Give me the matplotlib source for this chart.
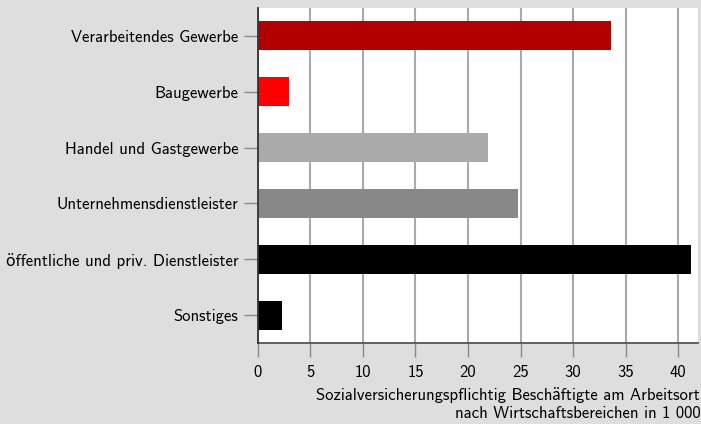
import matplotlib.pyplot as plt

categories = ["Verarbeitendes Gewerbe", "Baugewerbe", "Handel und Gastgewerbe",
              "Unternehmensdienstleister", "öffentliche und priv. Dienstleister", "Sonstiges"]
values = [33.6, 3.0, 21.9, 24.8, 41.2, 2.3]
colors = ["#b30000", "#ff0000", "#aaaaaa", "#888888", "#000000", "#000000"]
xticks = [0, 5, 10, 15, 20, 25, 30, 35, 40]

plt.rcParams['font.family'] = ['cmss10', 'Lato', 'DejaVu Sans']
plt.rcParams['axes.unicode_minus'] = False

fig = plt.figure(figsize=(7.01, 4.24), dpi=100, facecolor="#dedede")
ax = fig.add_axes([0.368, 0.191, 0.6277, 0.790])
ax.set_facecolor("white")

pos = list(range(len(categories)))
ax.barh(pos, values, height=0.52, color=colors, zorder=3)
ax.set_ylim(len(categories) - 0.5, -0.5)
ax.set_xlim(0, 41.9)

ax.set_yticks(pos)
ax.set_yticklabels(categories, fontsize=12)
ax.set_xticks(xticks)
ax.set_xticklabels([str(t) for t in xticks], fontsize=12)
ax.tick_params(axis="both", length=10, width=1, color="#888888", pad=4)
ax.tick_params(axis="x", pad=6)

ax.grid(axis="x", color="#aaaaaa", linewidth=1.5, zorder=0)
for s in ["top", "right"]:
    ax.spines[s].set_visible(False)
ax.spines["left"].set_color("#333333")
ax.spines["left"].set_linewidth(1.3)
ax.spines["left"].set_zorder(4)
ax.spines["bottom"].set_color("#555555")
ax.spines["bottom"].set_linewidth(1.3)

ax.set_xlabel("Sozialversicherungspflichtig Beschäftigte am Arbeitsort\nnach Wirtschaftsbereichen in 1 000",
              fontsize=12, x=1.005, ha="right", multialignment="right", labelpad=5,
              linespacing=1.2)

plt.savefig("out.png", dpi=100, facecolor=fig.get_facecolor())
